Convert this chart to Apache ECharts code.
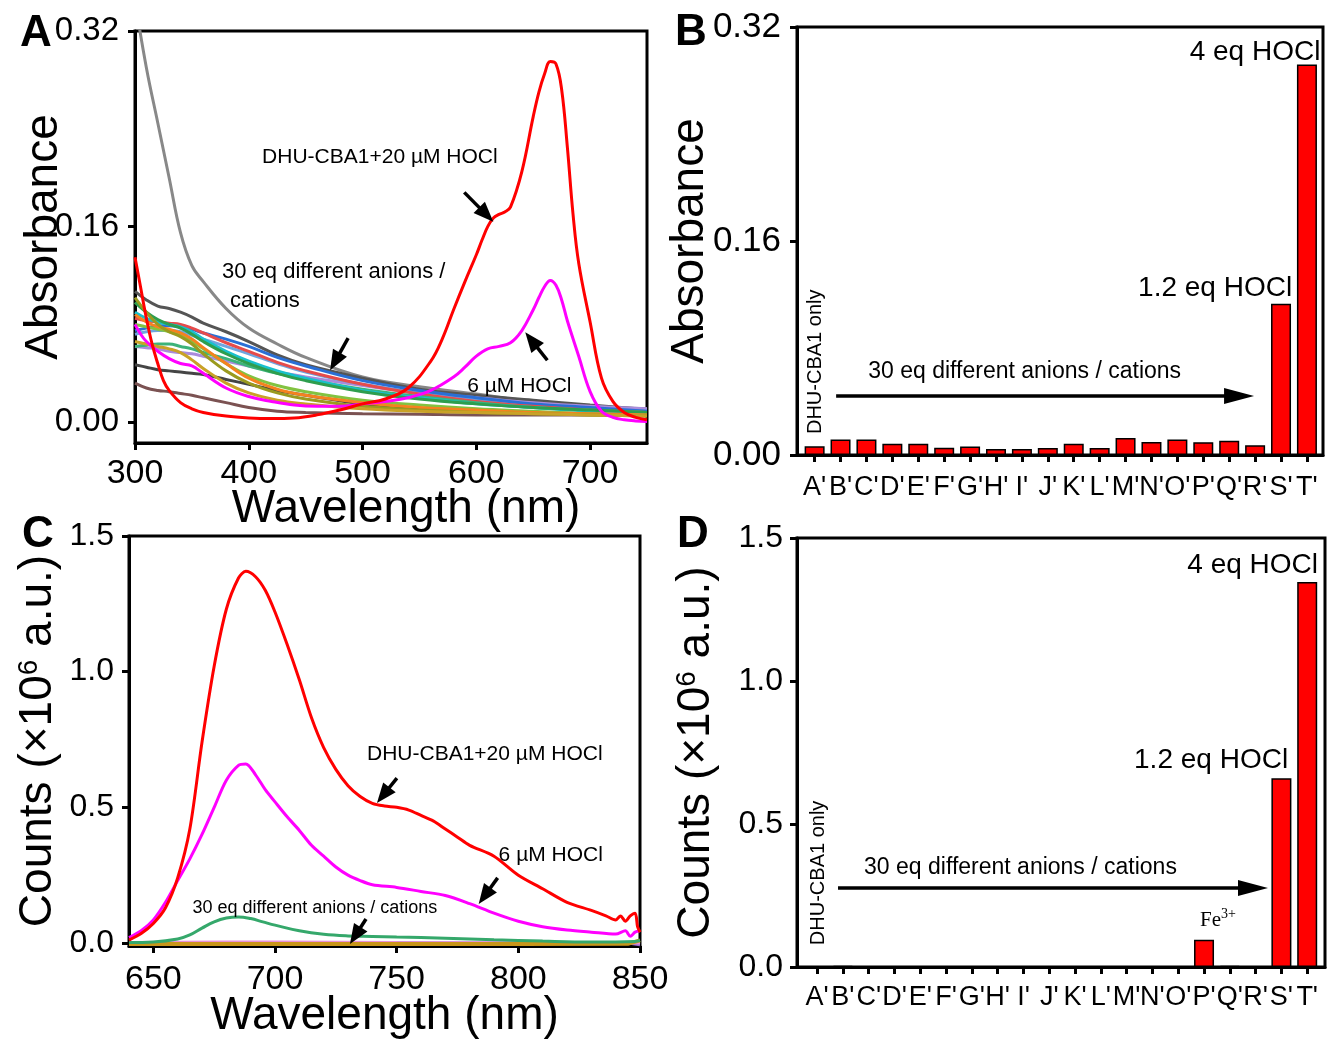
<!DOCTYPE html>
<html><head><meta charset="utf-8">
<script src="https://cdn.jsdelivr.net/npm/echarts@6/dist/echarts.min.js"></script>
<style>html,body{margin:0;padding:0;background:#fff}#main{width:1328px;height:1040px}</style>
</head><body><div id="main"></div>
<script>
// ---------------- DATA ----------------
// Panel A: UV-vis absorbance
const wlBundle = [300,310,320,330,340,350,360,380,400,425,450,500,550,600,650,700,750];
const absGrayLight = [0.345,0.29,0.245,0.2,0.155,0.128,0.115,0.093,0.077,0.064,0.053,0.037,0.029,0.023,0.017,0.013,0.011];
const absGrayDark  = [0.107,0.1,0.095,0.093,0.09,0.086,0.081,0.074,0.066,0.055,0.047,0.036,0.027,0.022,0.018,0.014,0.0105];
const absGrayLow   = [0.047,0.045,0.043,0.042,0.041,0.04,0.039,0.035,0.031,0.026,0.022,0.015,0.011,0.009,0.008,0.007,0.007];
const absBrown     = [0.032,0.028,0.026,0.025,0.0235,0.022,0.02,0.016,0.012,0.009,0.008,0.007,0.0065,0.006,0.006,0.006,0.006];
const absSalmon    = [0.085,0.083,0.082,0.081,0.08,0.077,0.073,0.065,0.058,0.049,0.042,0.031,0.023,0.017,0.013,0.010,0.008];
const absBlue      = [0.075,0.077,0.079,0.079,0.078,0.076,0.073,0.068,0.062,0.053,0.046,0.034,0.026,0.02,0.015,0.012,0.009];
const absSky       = [0.072,0.074,0.075,0.075,0.074,0.071,0.068,0.062,0.056,0.048,0.041,0.031,0.024,0.018,0.014,0.011,0.009];
const absCyan      = [0.09,0.085,0.082,0.08,0.078,0.074,0.068,0.058,0.05,0.042,0.036,0.026,0.02,0.015,0.012,0.009,0.007];
const absGreen     = [0.098,0.09,0.084,0.08,0.077,0.072,0.066,0.056,0.048,0.04,0.034,0.025,0.019,0.015,0.012,0.01,0.008];
const absTeal      = [0.062,0.063,0.064,0.064,0.062,0.06,0.057,0.052,0.046,0.04,0.035,0.027,0.021,0.016,0.012,0.01,0.008];
const absLime      = [0.08,0.078,0.076,0.074,0.071,0.066,0.06,0.048,0.038,0.03,0.025,0.018,0.014,0.011,0.009,0.007,0.006];
const absOrange    = [0.088,0.082,0.078,0.076,0.073,0.068,0.061,0.048,0.036,0.027,0.022,0.016,0.012,0.01,0.008,0.007,0.006];
const absOlive     = [0.102,0.09,0.08,0.074,0.07,0.064,0.056,0.042,0.032,0.024,0.019,0.013,0.01,0.008,0.007,0.006,0.005];
const absGold      = [0.066,0.064,0.062,0.06,0.057,0.051,0.044,0.032,0.024,0.018,0.015,0.011,0.009,0.008,0.007,0.006,0.005];
const absLavender  = [0.062,0.061,0.06,0.058,0.057,0.056,0.054,0.05,0.046,0.041,0.037,0.03,0.024,0.02,0.016,0.013,0.011];

const wlRedA  = [300,305,310,315,320,325,330,340,350,360,380,400,420,440,460,480,500,520,540,560,570,580,590,600,605,610,615,620,625,630,640,650,655,660,665,670,675,680,685,690,700,710,720,730,740,750];
const absRedA = [0.135,0.11,0.085,0.064,0.048,0.034,0.026,0.016,0.011,0.008,0.005,0.0035,0.003,0.0035,0.006,0.010,0.015,0.019,0.028,0.05,0.068,0.092,0.115,0.137,0.149,0.16,0.167,0.17,0.172,0.176,0.205,0.25,0.27,0.285,0.295,0.293,0.272,0.225,0.17,0.13,0.082,0.036,0.017,0.008,0.004,0.002];
const wlMagA  = [300,305,310,320,330,340,350,360,380,400,420,440,460,480,500,520,540,560,580,590,600,610,620,630,640,650,655,660,665,670,675,680,690,700,710,720,730,740,750];
const absMagA = [0.08,0.072,0.066,0.058,0.052,0.048,0.046,0.04,0.028,0.021,0.017,0.014,0.013,0.013,0.015,0.017,0.02,0.026,0.037,0.045,0.054,0.06,0.062,0.065,0.075,0.092,0.102,0.111,0.116,0.112,0.1,0.083,0.054,0.025,0.009,0.004,0.002,0.001,0.0005];

// Panel B / D: bar categories
const catLabels = ["A'","B'","C'","D'","E'","F'","G'","H'","I'","J'","K'","L'","M'","N'","O'","P'","Q'","R'","S'","T'"];
const barAbs    = [0.0065,0.0116,0.0116,0.0085,0.0085,0.0055,0.0063,0.0045,0.0045,0.0052,0.0085,0.0052,0.0127,0.0098,0.0116,0.0096,0.0106,0.0073,0.113,0.292];
const barCounts = [0,0.004,0,0,0,0,0,0,0,0,0,0,0,0,0,0.095,0.004,0,0.66,1.346];

// Panel C: fluorescence (x10^6 counts)
const wlRedC  = [640,645,650,655,660,665,670,675,680,685,688,692,696,700,705,710,715,720,725,730,735,740,745,750,755,760,765,770,775,780,790,800,810,820,830,836,840,842,844,846,848,849,850];
const cntRedC = [0.011,0.035,0.072,0.13,0.24,0.42,0.74,1.02,1.23,1.345,1.37,1.35,1.3,1.22,1.1,0.97,0.83,0.72,0.64,0.58,0.54,0.515,0.505,0.5,0.49,0.47,0.45,0.42,0.39,0.36,0.32,0.25,0.2,0.15,0.12,0.1,0.085,0.1,0.08,0.1,0.11,0.06,0.04];
const wlMagC  = [640,645,650,655,660,665,670,675,680,685,688,692,696,700,705,710,715,720,725,730,735,740,750,760,770,780,790,800,810,820,830,840,844,846,848,850];
const cntMagC = [0.02,0.045,0.085,0.15,0.23,0.31,0.4,0.5,0.6,0.655,0.66,0.62,0.565,0.52,0.465,0.415,0.36,0.32,0.28,0.25,0.23,0.215,0.205,0.19,0.175,0.145,0.11,0.08,0.06,0.048,0.04,0.033,0.045,0.025,0.04,0.045];
const wlGreenC  = [640,650,660,665,670,675,680,685,690,695,700,710,720,730,740,750,770,790,810,830,848,850];
const cntGreenC = [0.002,0.004,0.015,0.03,0.055,0.078,0.092,0.096,0.09,0.078,0.066,0.045,0.032,0.026,0.024,0.022,0.018,0.012,0.007,0.004,0.006,0.01];
const wlFlatC   = [640,700,750,800,845,850];
const cntGoldC  = [-0.004,-0.004,-0.004,-0.004,-0.003,0.01];
const cntPinkC  = [0.002,0.004,0.002,0.001,0.001,0.0];
const cntPurpleC= [0.0,0.002,0.001,0.0,0.0,-0.006];

// ---------------- STYLE ----------------
const FONT = '"Liberation Sans", Arial, Helvetica, sans-serif';
const BLACK = '#000';
const bundleStyles = [
  [absGrayLight,'#888888'],[absGrayDark,'#555555'],[absGrayLow,'#454545'],[absBrown,'#7b5252'],
  [absLavender,'#a98bdc'],[absSky,'#6ea6e0'],[absBlue,'#2a6fd6'],[absSalmon,'#e64b4b'],[absTeal,'#3cb37a'],
  [absCyan,'#19c0cc'],[absGreen,'#2e9e4e'],[absLime,'#82c341'],[absOrange,'#f5821f'],[absOlive,'#9a9a1e'],[absGold,'#c9a227']
];
const pairs = (xs, ys) => xs.map((x, i) => [x, ys[i]]);

function xValAxis(g, min, max, ticks, fmt, fs, margin, name, nameGap, namePad) {
  return {
    gridIndex: g, type: 'value', min, max,
    axisLine: { show: true, onZero: false, lineStyle: { color: BLACK, width: 3 } },
    axisTick: { show: true, inside: false, length: 7, customValues: ticks, lineStyle: { color: BLACK, width: 3 } },
    axisLabel: { customValues: ticks, formatter: fmt, fontSize: fs, color: BLACK, fontFamily: FONT, margin, hideOverlap: false },
    splitLine: { show: false },
    name, nameLocation: 'middle', nameGap, nameMoveOverlap: false,
    nameTextStyle: { fontSize: 46, color: BLACK, fontFamily: FONT, padding: namePad || 0 }
  };
}
function yValAxis(g, min, max, ticks, fmt, fs, margin, name, nameGap, rich) {
  const ts = { fontSize: 46, color: BLACK, fontFamily: FONT };
  if (rich) ts.rich = rich;
  return {
    gridIndex: g, type: 'value', min, max,
    axisLine: { show: true, onZero: false, lineStyle: { color: BLACK, width: 3 } },
    axisTick: { show: true, inside: false, length: 7, customValues: ticks, lineStyle: { color: BLACK, width: 3 } },
    axisLabel: { customValues: ticks, formatter: fmt, fontSize: fs, color: BLACK, fontFamily: FONT, margin },
    splitLine: { show: false },
    name, nameLocation: 'middle', nameGap, nameRotate: 90, nameMoveOverlap: false, nameTextStyle: ts
  };
}
const idxTicks = catLabels.map((_, i) => i);
const catFmt = v => catLabels[Math.round(v)];
const countsRich = { sup: { fontSize: 28, fontFamily: FONT, color: BLACK, verticalAlign: 'top', padding: [0, 0, 16, 0] } };

const series = [];
bundleStyles.forEach(([vals, col]) => {
  series.push({ type: 'line', xAxisIndex: 0, yAxisIndex: 0, data: pairs(wlBundle, vals), smooth: 0.4,
    symbol: 'none', lineStyle: { color: col, width: 3 }, silent: true });
});
series.push({ type: 'line', xAxisIndex: 0, yAxisIndex: 0, data: pairs(wlMagA, absMagA), smooth: 0.4, symbol: 'none', lineStyle: { color: '#ff00ff', width: 3 } });
series.push({ type: 'line', xAxisIndex: 0, yAxisIndex: 0, data: pairs(wlRedA, absRedA), smooth: 0.4, symbol: 'none', lineStyle: { color: '#ff0000', width: 3 } });

const barStyle = { color: '#ff0000', borderColor: BLACK, borderWidth: 1.5 };
series.push({ type: 'bar', xAxisIndex: 1, yAxisIndex: 1, data: barAbs.map((v, i) => [i, v]), barWidth: 20, itemStyle: barStyle });
series.push({ type: 'bar', xAxisIndex: 3, yAxisIndex: 3, data: barCounts.map((v, i) => [i, v]), barWidth: 20, itemStyle: barStyle });

series.push({ type: 'line', xAxisIndex: 2, yAxisIndex: 2, data: pairs(wlFlatC, cntPurpleC), symbol: 'none', lineStyle: { color: '#9b6fd0', width: 3 } });
series.push({ type: 'line', xAxisIndex: 2, yAxisIndex: 2, data: pairs(wlFlatC, cntPinkC), smooth: 0.4, symbol: 'none', lineStyle: { color: '#e88fd8', width: 3 } });
series.push({ type: 'line', xAxisIndex: 2, yAxisIndex: 2, data: pairs(wlFlatC, cntGoldC), symbol: 'none', lineStyle: { color: '#c9961a', width: 4 } });
series.push({ type: 'line', xAxisIndex: 2, yAxisIndex: 2, data: pairs(wlGreenC, cntGreenC), smooth: 0.4, symbol: 'none', lineStyle: { color: '#35a86b', width: 3 } });
series.push({ type: 'line', xAxisIndex: 2, yAxisIndex: 2, data: pairs(wlMagC, cntMagC), smooth: 0.3, symbol: 'none', lineStyle: { color: '#ff00ff', width: 3 } });
series.push({ type: 'line', xAxisIndex: 2, yAxisIndex: 2, data: pairs(wlRedC, cntRedC), smooth: 0.3, symbol: 'none', lineStyle: { color: '#ff0000', width: 3 } });

const gridBase = { show: true, borderColor: BLACK, borderWidth: 3, backgroundColor: 'transparent', containLabel: false, outerBoundsMode: 'none' };
const option = {
  backgroundColor: '#fff',
  animation: false,
  grid: [
    Object.assign({ left: 135, top: 31, width: 512, height: 412 }, gridBase),
    Object.assign({ left: 797, top: 27, width: 526, height: 428 }, gridBase),
    Object.assign({ left: 129, top: 536, width: 511, height: 410 }, gridBase),
    Object.assign({ left: 797, top: 538, width: 528, height: 429 }, gridBase)
  ],
  xAxis: [
    xValAxis(0, 300, 750, [300,400,500,600,700], v => String(v), 34, 14, 'Wavelength (nm)', 43, [0, 0, 0, 30]),
    xValAxis(1, -0.68, 19.62, idxTicks, catFmt, 27, 19, '', 0),
    xValAxis(2, 640, 850, [650,700,750,800,850], v => String(v), 34, 17, 'Wavelength (nm)', 47),
    xValAxis(3, -0.78, 19.69, idxTicks, catFmt, 27, 17, '', 0)
  ],
  yAxis: [
    yValAxis(0, -0.017, 0.32, [0, 0.16, 0.32], v => v.toFixed(2), 33, 16, 'Absorbance', 68),
    yValAxis(1, 0, 0.32, [0, 0.16, 0.32], v => v.toFixed(2), 35, 16, 'Absorbance', 84),
    yValAxis(2, -0.011, 1.5, [0, 0.5, 1, 1.5], v => v.toFixed(1), 32, 15, 'Counts (×10{sup|6} a.u.)', 68, countsRich),
    yValAxis(3, 0, 1.5, [0, 0.5, 1, 1.5], v => v.toFixed(1), 32, 14, 'Counts (×10{sup|6} a.u.)', 78, countsRich)
  ],
  series
};

const chart = echarts.init(document.getElementById('main'), null, { renderer: 'canvas' });
chart.setOption(option);

// ---------------- ANNOTATIONS (in data coordinates) ----------------
const textsA = [
  { p: [411.7, 0.217], t: 'DHU-CBA1+20 µM HOCl', s: 21, a: 'left' },
  { p: [376.5, 0.123], t: '30 eq different anions /', s: 22, a: 'left' },
  { p: [383.6, 0.099], t: 'cations', s: 22, a: 'left' },
  { p: [592, 0.0295], t: '6 µM HOCl', s: 21, a: 'left' }
];
const arrowsA = [
  { f: [589.4, 0.188], h: [614.9, 0.164] },
  { f: [487.3, 0.0687], h: [471.5, 0.0426] },
  { f: [662.4, 0.0507], h: [643, 0.0736] }
];
const textsB = [
  { p: [0.05, 0.0697], t: 'DHU-CBA1 only', s: 20, a: 'center', rot: true },
  { p: [2.07, 0.0622], t: '30 eq different anions / cations', s: 23, a: 'left' },
  { p: [18.43, 0.1244], t: '1.2 eq HOCl', s: 28, a: 'right' },
  { p: [19.52, 0.3013], t: '4 eq HOCl', s: 28, a: 'right' }
];
const arrowsB = [{ f: [0.83, 0.0442], h: [16.96, 0.0442], big: true }];
const textsC = [
  { p: [737.8, 0.697], t: 'DHU-CBA1+20 µM HOCl', s: 21, a: 'left' },
  { p: [791.9, 0.325], t: '6 µM HOCl', s: 21, a: 'left' },
  { p: [666.1, 0.129], t: '30 eq different anions / cations', s: 18, a: 'left' }
];
const arrowsC = [
  { f: [750.1, 0.608], h: [741.9, 0.516] },
  { f: [791.5, 0.24], h: [783.7, 0.144] },
  { f: [737.4, 0.0885], h: [730.8, -0.004] }
];
const textsD = [
  { p: [0.04, 0.329], t: 'DHU-CBA1 only', s: 20, a: 'center', rot: true },
  { p: [1.82, 0.346], t: '30 eq different anions / cations', s: 23, a: 'left' },
  { p: [18.26, 0.724], t: '1.2 eq HOCl', s: 28, a: 'right' },
  { p: [19.42, 1.406], t: '4 eq HOCl', s: 28, a: 'right' }
];
const arrowsD = [{ f: [0.81, 0.276], h: [17.48, 0.276], big: true }];
const feLabel = { p: [15.43, 0.164] };

function P(g, x, y) { return chart.convertToPixel({ gridIndex: g }, [x, y]); }
const graphics = [];
function addText(g, o) {
  const q = P(g, o.p[0], o.p[1]);
  graphics.push({ type: 'text', x: q[0], y: q[1], rotation: o.rot ? Math.PI / 2 : 0, z: 100,
    style: { text: o.t, fill: BLACK, font: o.s + 'px ' + FONT, align: o.a, verticalAlign: 'middle' } });
}
function addArrow(g, o) {
  const a = P(g, o.f[0], o.f[1]), b = P(g, o.h[0], o.h[1]);
  const hl = o.big ? 30 : 20, hw = 8, lw = 3.5;
  const dx = b[0] - a[0], dy = b[1] - a[1], L = Math.hypot(dx, dy), ux = dx / L, uy = dy / L;
  const bx = b[0] - ux * hl, by = b[1] - uy * hl, px = -uy, py = ux;
  graphics.push({ type: 'line', z: 100, shape: { x1: a[0], y1: a[1], x2: bx + ux * 3, y2: by + uy * 3 }, style: { stroke: BLACK, lineWidth: lw } });
  graphics.push({ type: 'polygon', z: 100, shape: { points: [[b[0], b[1]], [bx + px * hw, by + py * hw], [bx - px * hw, by - py * hw]] }, style: { fill: BLACK } });
}
textsA.forEach(o => addText(0, o)); arrowsA.forEach(o => addArrow(0, o));
textsB.forEach(o => addText(1, o)); arrowsB.forEach(o => addArrow(1, o));
textsC.forEach(o => addText(2, o)); arrowsC.forEach(o => addArrow(2, o));
textsD.forEach(o => addText(3, o)); arrowsD.forEach(o => addArrow(3, o));
const fe = P(3, feLabel.p[0], feLabel.p[1]);
graphics.push({ type: 'text', x: fe[0] + 6, y: fe[1], z: 100, style: { text: 'Fe', fill: BLACK, font: '21px "Liberation Serif", "Times New Roman", serif', align: 'right', verticalAlign: 'middle' } });
graphics.push({ type: 'text', x: fe[0] + 6, y: fe[1] - 6, z: 100, style: { text: '3+', fill: BLACK, font: '14px "Liberation Serif", "Times New Roman", serif', align: 'left', verticalAlign: 'middle' } });

// panel letters
[['A', 20, 12], ['B', 675, 11], ['C', 22, 513], ['D', 677, 513]].forEach(([t, x, y]) => {
  graphics.push({ type: 'text', x, y, z: 100, style: { text: t, fill: BLACK, font: 'bold 44px ' + FONT, align: 'left', verticalAlign: 'top' } });
});
chart.setOption({ graphic: graphics });
</script></body></html>
